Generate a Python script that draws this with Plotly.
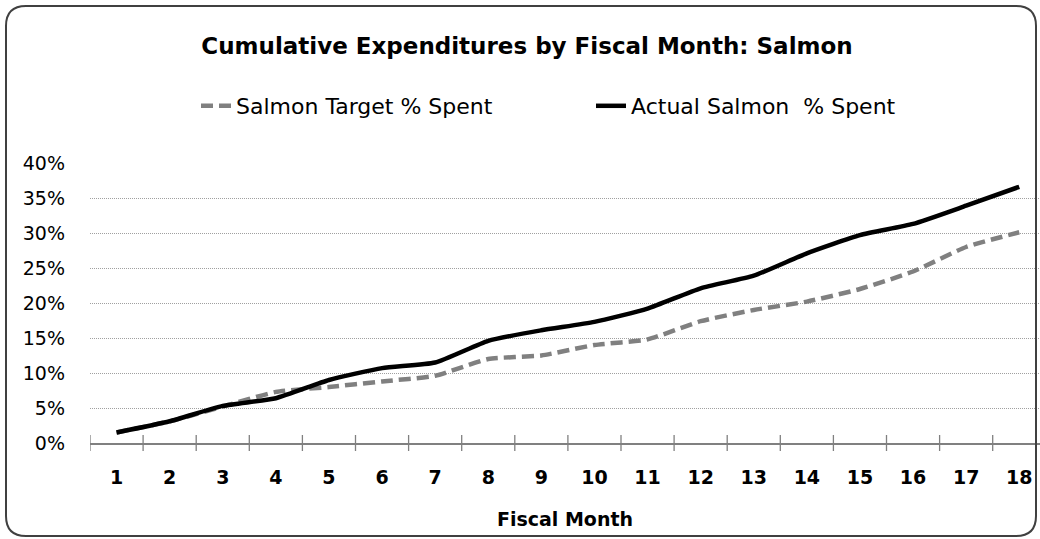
import plotly.graph_objects as go

months = list(range(1, 19))
month_labels = [str(m) for m in months]
target_pct = [1.5, 3.1, 5.2, 7.3, 8.0, 8.8, 9.6, 12.0, 12.5, 14.0, 14.8, 17.4, 19.0, 20.2, 22.0, 24.5, 28.0, 30.1]
actual_pct = [1.5, 3.1, 5.3, 6.4, 9.0, 10.7, 11.5, 14.6, 16.1, 17.3, 19.2, 22.1, 23.9, 27.1, 29.7, 31.3, 33.9, 36.6]
y_ticks = [0, 5, 10, 15, 20, 25, 30, 35, 40]
y_tick_text = [f"{v}%" for v in y_ticks]
series_names = ["Salmon Target % Spent", "Actual Salmon  % Spent"]

FONT = "'DejaVu Sans', sans-serif"
W, H = 1040, 539
L, R, T, B = 90, 0, 163, 96
plot_w = W - L - R
plot_h = H - T - B
px_per_cat = 53.1
x_lo = 0.5
x_hi = x_lo + plot_w / px_per_cat

fig = go.Figure()
fig.add_trace(go.Scatter(
    x=months, y=target_pct, name=series_names[0], mode="lines",
    line=dict(color="#808080", width=4.5, dash="12px,6px", shape="spline", smoothing=0.5),
))
fig.add_trace(go.Scatter(
    x=months, y=actual_pct, name=series_names[1], mode="lines",
    line=dict(color="#000000", width=4.5, shape="spline", smoothing=0.5),
))

shapes = []
for b in [m - 0.5 for m in months]:
    shapes.append(dict(type="line", xref="x", yref="paper", x0=b, x1=b,
                       y0=-8 / plot_h, y1=8 / plot_h,
                       line=dict(color="#808080", width=1.3)))


def px(xp):
    return (xp - L) / plot_w


def py(yp):
    return (H - B - yp) / plot_h


x0b, y0b, x1b, y1b, r = 6, 6, 1036, 536, 20
path = (
    f"M {px(x0b + r)} {py(y0b)} L {px(x1b - r)} {py(y0b)} "
    f"Q {px(x1b)} {py(y0b)} {px(x1b)} {py(y0b + r)} "
    f"L {px(x1b)} {py(y1b - r)} "
    f"Q {px(x1b)} {py(y1b)} {px(x1b - r)} {py(y1b)} "
    f"L {px(x0b + r)} {py(y1b)} "
    f"Q {px(x0b)} {py(y1b)} {px(x0b)} {py(y1b - r)} "
    f"L {px(x0b)} {py(y0b + r)} "
    f"Q {px(x0b)} {py(y0b)} {px(x0b + r)} {py(y0b)} Z"
)
shapes.append(dict(type="path", xref="paper", yref="paper", path=path,
                   line=dict(color="#404040", width=2), layer="above"))

fig.update_layout(
    width=W, height=H,
    margin=dict(l=L, r=R, t=T, b=B, autoexpand=False),
    paper_bgcolor="white", plot_bgcolor="white",
    font=dict(family=FONT, size=18, color="#000000"),
    title=dict(text="<b>Cumulative Expenditures by Fiscal Month: Salmon</b>",
               x=px(527), xref="paper", xanchor="center",
               y=1 - 46 / H, yanchor="middle",
               font=dict(family=FONT, size=23, color="#000000")),
    legend=dict(orientation="h", x=px(196), xanchor="left",
                y=py(106), yanchor="middle",
                font=dict(family=FONT, size=22, color="#000000"),
                entrywidth=350, entrywidthmode="pixels",
                bgcolor="rgba(0,0,0,0)"),
    shapes=shapes,
    showlegend=True,
)
fig.update_xaxes(
    range=[x_lo, x_hi], tickmode="array", tickvals=months,
    ticktext=[f"<b>{t}</b>" for t in month_labels],
    ticks="", showgrid=False, zeroline=False,
    showline=True, linecolor="#808080", linewidth=1.5,
    tickfont=dict(family=FONT, size=19, color="#000000"),
    ticklabelstandoff=16,
    title=dict(text="<b>Fiscal Month</b>", standoff=26,
               font=dict(family=FONT, size=19, color="#000000")),
)
fig.update_yaxes(
    range=[0, 40], tickmode="array", tickvals=y_ticks, ticktext=y_tick_text,
    showgrid=True, gridcolor="#a0a0a0", griddash="1px,1px", gridwidth=1,
    zeroline=False, showline=False, ticks="",
    tickfont=dict(family=FONT, size=19, color="#000000"),
    ticklabelstandoff=24,
)

fig.write_html("out.html", config={"displayModeBar": False},
               post_script="document.body.style.margin='0';")
